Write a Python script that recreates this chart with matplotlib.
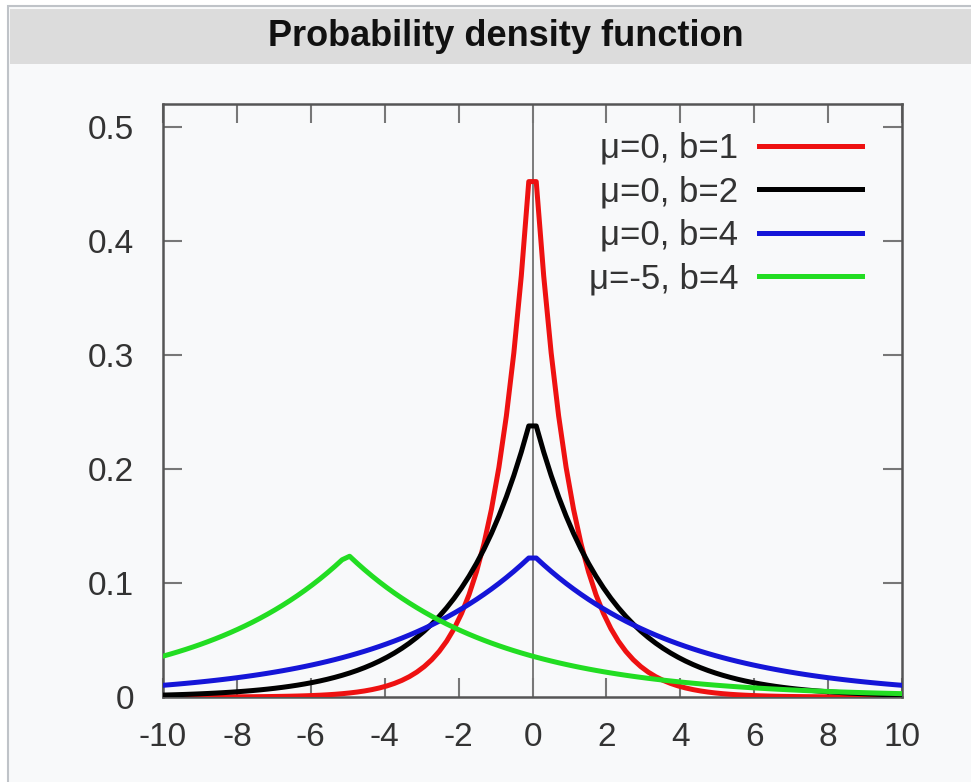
import numpy as np
import matplotlib.pyplot as plt
from matplotlib.patches import Rectangle

# Laplace parameters shown in the legend
mus = [0, 0, 0, -5]
bs = [1, 2, 4, 4]
labels = ['μ=0, b=1', 'μ=0, b=2', 'μ=0, b=4', 'μ=-5, b=4']
colors = ['#ee1111', '#000000', '#1515d8', '#22dd22']

xticks = [-10, -8, -6, -4, -2, 0, 2, 4, 6, 8, 10]
yticks = [0, 0.1, 0.2, 0.3, 0.4, 0.5]
ytick_labels = ['0', '0.1', '0.2', '0.3', '0.4', '0.5']

# gnuplot default sampling (100 samples over the x range)
x = np.linspace(-10, 10, 100)

plt.rcParams['font.family'] = ['Liberation Sans', 'DejaVu Sans']

W, H = 971, 782
fig = plt.figure(figsize=(W / 100, H / 100), dpi=100)
fig.patch.set_facecolor('white')


def box(x0, y0, w, h):
    return (x0 / W, 1 - (y0 + h) / H), w / W, h / H


xy, w, h = box(8, 6, 990, 800)
fig.add_artist(Rectangle(xy, w, h, transform=fig.transFigure, zorder=-10,
                         facecolor='#f8f9fa', edgecolor='#bfc3c8', lw=1.5))
xy, w, h = box(10, 9, 980, 55)
fig.add_artist(Rectangle(xy, w, h, transform=fig.transFigure, zorder=-9,
                         facecolor='#dcdcdc', edgecolor='none'))
fig.text(506 / W, 1 - 37 / H, 'Probability density function', ha='center',
         va='center', fontsize=26, fontweight='bold', color='#111111')

ax = fig.add_axes([163 / W, 1 - 697 / H, (902 - 163) / W, (697 - 104) / H])
ax.set_facecolor('none')

ax.axvline(0, color='#666666', lw=1.2, zorder=1)
for mu, b, c, lab in zip(mus, bs, colors, labels):
    y = np.exp(-np.abs(x - mu) / b) / (2 * b)
    ax.plot(x, y, color=c, lw=3.6, label=lab, zorder=3)

ax.set_xlim(-10, 10)
ax.set_ylim(0, 0.52)
ax.set_xticks(xticks)
ax.set_xticklabels([str(t) for t in xticks])
ax.set_yticks(yticks)
ax.set_yticklabels(ytick_labels)
ax.tick_params(direction='in', length=14, width=1.5, color='#777777',
               top=True, right=True, labelsize=24, labelcolor='#333333')
ax.tick_params(axis='x', pad=18)
ax.tick_params(axis='y', pad=21)
for s in ax.spines.values():
    s.set_color('#555555')
    s.set_linewidth(1.8)

leg = ax.legend(loc='upper right', bbox_to_anchor=(0.946, 0.953),
                markerfirst=False, frameon=False, fontsize=25,
                handlelength=2.97, handletextpad=0.6, labelspacing=0.3,
                borderpad=0, borderaxespad=0)
for t in leg.get_texts():
    t.set_color('#333333')

fig.savefig('out.png', dpi=100)
